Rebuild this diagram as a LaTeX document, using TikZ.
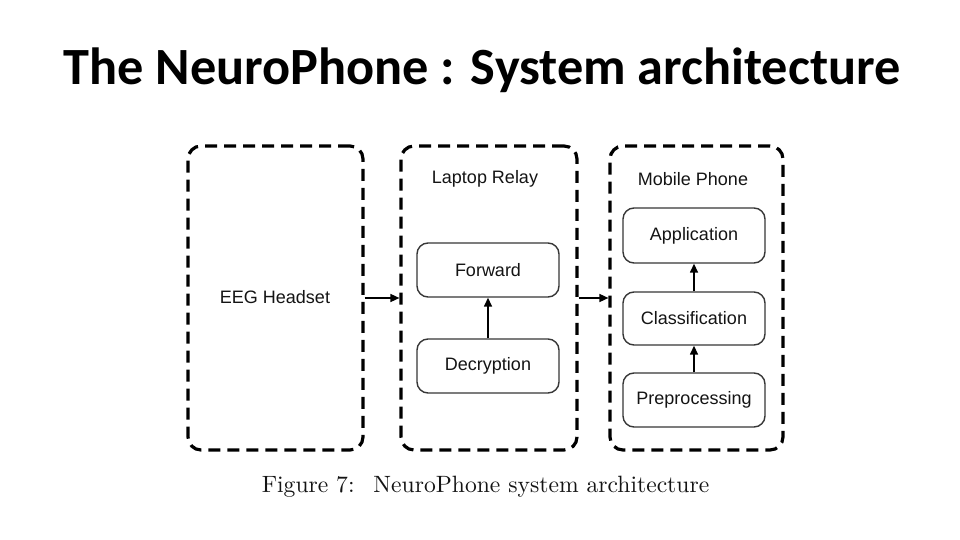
\documentclass[tikz,border=0pt]{standalone}
\usepackage{fontspec}
\setmainfont{Latin Modern Roman}
\newfontfamily\titlefont{Carlito}
\newfontfamily\diagfont{Liberation Sans}
\newfontfamily\capfont{lmroman10-regular.otf}
\usetikzlibrary{arrows.meta}
\definecolor{ink}{HTML}{141414}
\tikzset{
  outerbox/.style={draw=black, line width=3.2pt, dash pattern=on 12pt off 7pt, rounded corners=13pt, inner sep=0pt},
  innerbox/.style={draw=ink!85, line width=1.4pt, rounded corners=11pt, minimum width=142pt, inner sep=0pt, font=\diagfont\fontsize{18}{21}\selectfont, text=ink},
  lbl/.style={font=\diagfont\fontsize{18}{21}\selectfont, text=ink, inner sep=0pt},
  arr/.style={draw=black, line width=1.5pt, -{Triangle[length=9pt,width=8pt]}}
}
\begin{document}
\begin{tikzpicture}[x=1pt,y=-1pt]
\useasboundingbox[fill=white] (0,0) rectangle (960,540);
% title
\node[font=\titlefont\bfseries\fontsize{52.3}{58}\selectfont, anchor=base, inner sep=0pt] (title) at (482,85) {The NeuroPhone : System architecture};
% outer boxes
\node[outerbox, minimum width=175pt, minimum height=304pt] (eeg) at (275.5,298) {};
\node[outerbox, minimum width=176pt, minimum height=304pt] (laptop) at (489,298) {};
\node[outerbox, minimum width=173pt, minimum height=304pt] (mobile) at (696.5,298) {};
\node[lbl] (eegt) at (275,297) {EEG Headset};
\node[lbl] (lapt) at (485,179) {Laptop Relay};
\node[lbl] (mobt) at (693,179) {Mobile Phone};
% inner boxes
\node[innerbox, minimum height=54pt] (fwd) at (488,270) {Forward};
\node[innerbox, minimum height=54pt] (dec) at (488,366) {Decryption};
\node[innerbox, minimum height=55pt] (app) at (694,235.5) {Application};
\node[innerbox, minimum height=53pt] (cls) at (694,318.5) {Classification};
\node[innerbox, minimum height=54pt] (pre) at (694,400) {Preprocessing};
% arrows
\draw[arr] (eeg.east) -- (laptop.west);
\draw[arr] (laptop.east) -- (mobile.west);
\draw[arr] (dec.north) -- (fwd.south);
\draw[arr] (pre.north) -- (cls.south);
\draw[arr] (cls.north) -- (app.south);
% caption
\node[font=\capfont\fontsize{23.6}{27}\selectfont, text=ink, anchor=base, inner sep=0pt] (cap) at (485.5,492) {Figure 7:\hspace{0.8em}NeuroPhone system architecture};
\end{tikzpicture}
\end{document}
